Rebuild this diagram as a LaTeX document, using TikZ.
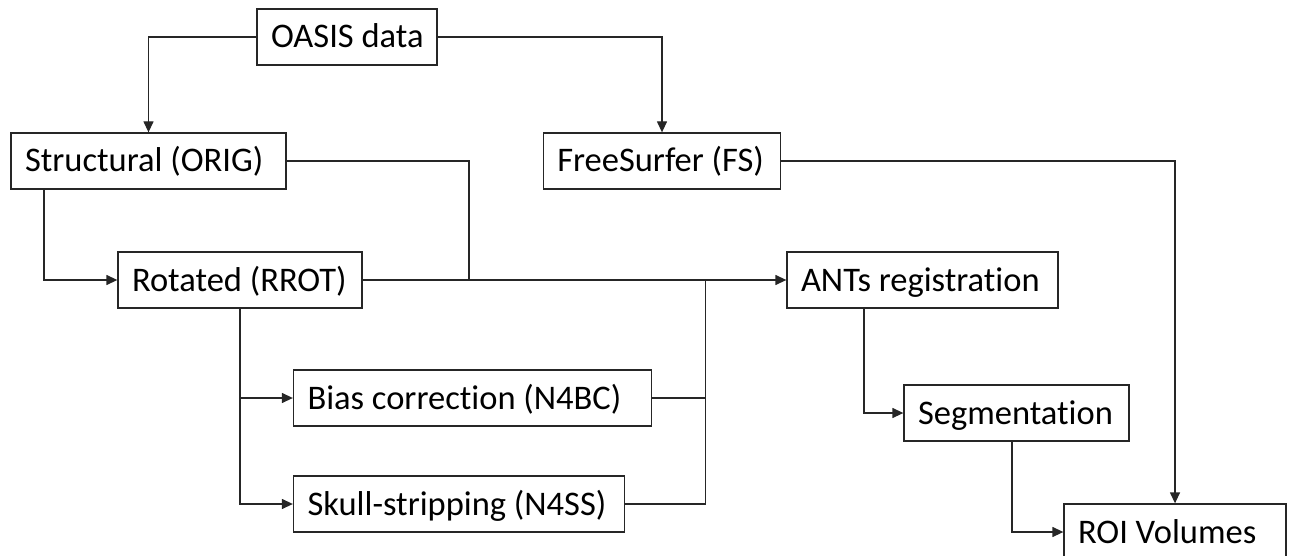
\documentclass[tikz,border=0pt]{standalone}
\usepackage{fontspec}
\setmainfont{Carlito}[Ligatures=NoCommon]
\usetikzlibrary{arrows.meta}
\newcommand\bxtext[2]{\makebox[#1][l]{#2}}
\begin{document}
\begin{tikzpicture}[x=1pt,y=-1pt,
  box/.style={draw=black!85,line width=1.3pt,minimum height=56pt,inner xsep=14pt,inner ysep=0pt,
    font=\fontsize{34.5}{40}\selectfont,text height=22pt,text depth=0pt,anchor=center},
  conn/.style={draw=black!85,line width=1.3pt},
  arr/.style={conn,-{Triangle[length=11pt,width=10pt]}}]
\useasboundingbox (0,0) rectangle (1290,556);
\node[box] (oasis) at (347,37) {\bxtext{152pt}{OASIS data}};
\node[box] (orig) at (148.5,161) {\bxtext{247pt}{Structural (ORIG)}};
\node[box] (fs) at (662,161) {\bxtext{209.5pt}{FreeSurfer (FS)}};
\node[box] (rrot) at (240,280) {\bxtext{216pt}{Rotated (RROT)}};
\node[box] (ants) at (922.5,280) {\bxtext{243pt}{ANTs registration}};
\node[box] (bias) at (472.5,398) {\bxtext{330pt}{Bias correction (N4BC)}};
\node[box] (skull) at (459,504) {\bxtext{303pt}{Skull-stripping (N4SS)}};
\node[box] (seg) at (1016.5,413) {\bxtext{197pt}{Segmentation}};
\node[box] (roi) at (1175,532) {\bxtext{194pt}{ROI Volumes}};
\coordinate (j1) at (469,280);
\coordinate (j2) at (705.5,280);
\draw[arr] (oasis.west) -| (orig.north);
\draw[arr] (oasis.east) -| (fs.north);
\draw[conn] (orig.east) -| (j1);
\draw[arr] ([xshift=-104.5pt]orig.south) |- (rrot.west);
\draw[arr] (rrot.east) -- (ants.west);
\draw[arr] (rrot.south) |- (bias.west);
\draw[arr] (rrot.south) |- (skull.west);
\draw[conn] (bias.east) -- (bias.east -| j2);
\draw[conn] (skull.east) -| (j2);
\draw[arr] ([xshift=-58.5pt]ants.south) |- (seg.west);
\draw[arr] ([xshift=-4.5pt]seg.south) |- (roi.west);
\draw[arr] (fs.east) -| (roi.north);
\end{tikzpicture}
\end{document}
